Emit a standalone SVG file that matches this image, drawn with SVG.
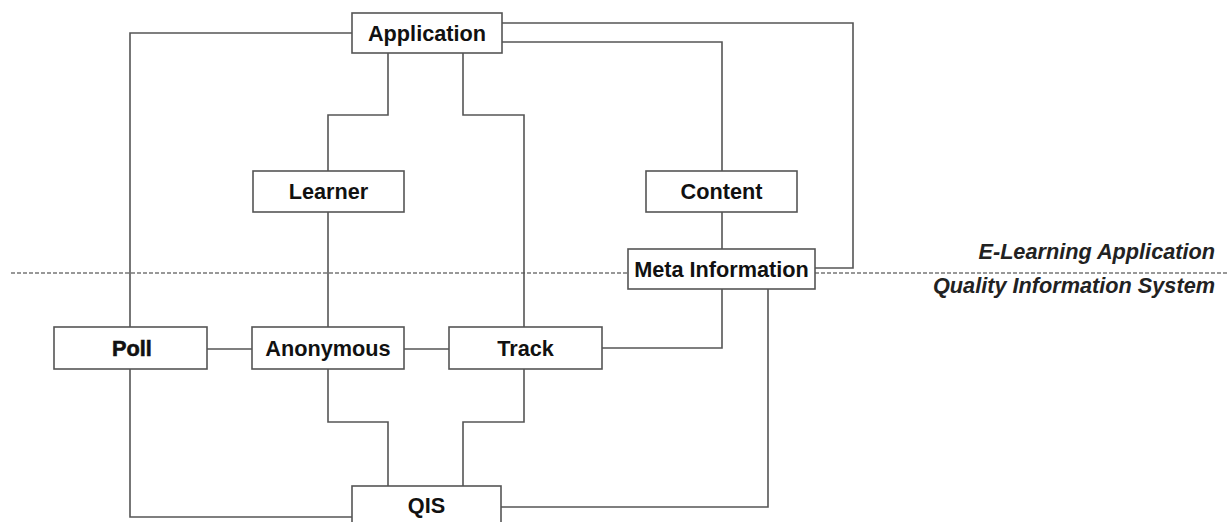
<svg xmlns="http://www.w3.org/2000/svg" width="1229" height="522" viewBox="0 0 1229 522">
<style>
.box{fill:#fff;stroke:#555;stroke-width:1.6}
.lbl{font-family:"Liberation Sans",Arial,sans-serif;font-size:21.7px;font-weight:bold;fill:#111;text-anchor:middle}
.side{font-family:"Liberation Sans",Arial,sans-serif;font-size:21.7px;font-weight:bold;font-style:italic;fill:#222;text-anchor:end}
.con{fill:none;stroke:#555;stroke-width:1.6}
</style>
<rect width="1229" height="522" fill="#fff"/>
<line x1="11" y1="273" x2="1229" y2="273" stroke="#777" stroke-width="1.3" stroke-dasharray="4,2"/>
<g id="connectors" class="con">
<path d="M352 33 H130 V327"/>
<path d="M502 23 H853 V268 H815"/>
<path d="M502 42 H722 V171"/>
<path d="M722 212 V249"/>
<path d="M388 53 V115 H328 V171"/>
<path d="M463 53 V115 H524 V327"/>
<path d="M328 212 V327"/>
<path d="M207 349 H252"/>
<path d="M404 349 H449"/>
<path d="M722 289 V348 H602"/>
<path d="M768 289 V507 H501"/>
<path d="M130 369 V517 H352"/>
<path d="M328 369 V422 H388 V486"/>
<path d="M524 369 V422 H463 V486"/>
</g>
<g id="application"><rect class="box" x="352" y="13" width="150" height="40"/><text class="lbl" x="427" y="40.5">Application</text></g>
<g id="learner"><rect class="box" x="253" y="171" width="151" height="41"/><text class="lbl" x="328.5" y="199">Learner</text></g>
<g id="content"><rect class="box" x="646" y="171" width="151" height="41"/><text class="lbl" x="721.5" y="199">Content</text></g>
<g id="meta-information"><rect class="box" x="628" y="249" width="187" height="40"/><text class="lbl" x="721.5" y="276.5">Meta Information</text></g>
<g id="poll"><rect class="box" x="54" y="327" width="153" height="42"/><text class="lbl" x="132" y="356" stroke="#111" stroke-width="0.6">Poll</text></g>
<g id="anonymous"><rect class="box" x="252" y="327" width="152" height="42"/><text class="lbl" x="328" y="356">Anonymous</text></g>
<g id="track"><rect class="box" x="449" y="327" width="153" height="42"/><text class="lbl" x="525.5" y="356">Track</text></g>
<g id="qis"><rect class="box" x="352" y="486" width="149" height="45"/><text class="lbl" x="426.5" y="513">QIS</text></g>
<g id="labels">
<text class="side" x="1215" y="259">E-Learning Application</text>
<text class="side" x="1215" y="293">Quality Information System</text>
</g>
</svg>
